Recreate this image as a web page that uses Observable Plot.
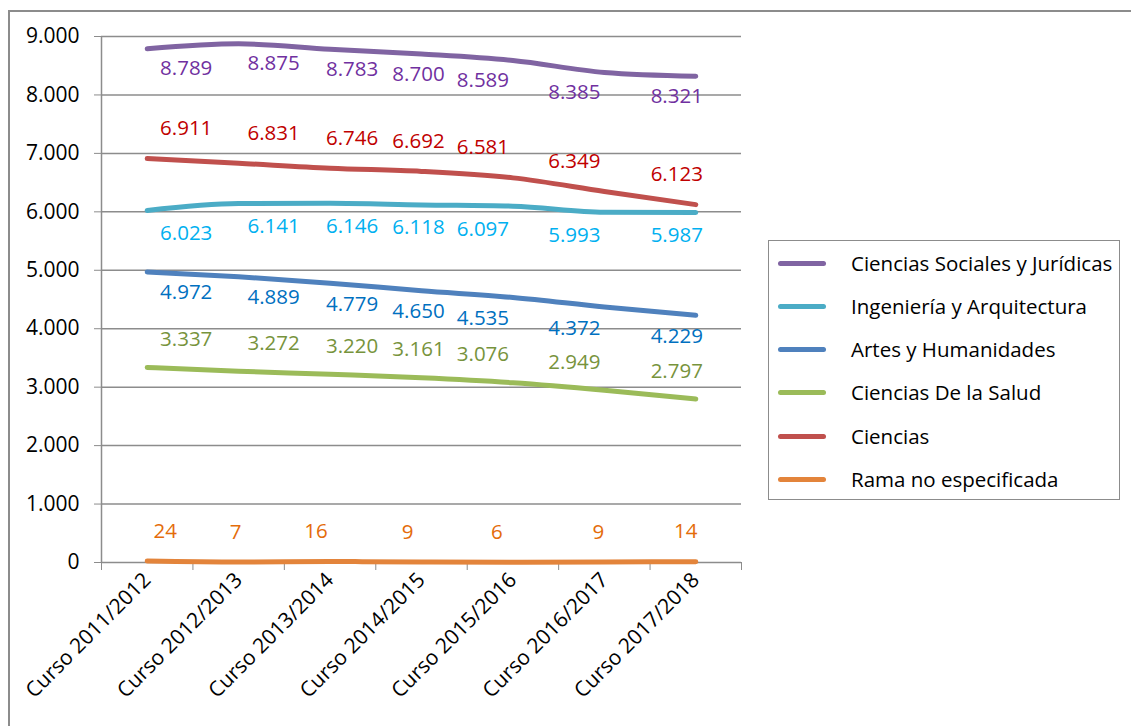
<!DOCTYPE html>
<html>
<head>
<meta charset="utf-8">
<script src="https://cdn.jsdelivr.net/npm/d3@7"></script>
<script src="https://cdn.jsdelivr.net/npm/@observablehq/plot@0.6"></script>
<style>
  html, body { margin: 0; padding: 0; background: #fff; }
  #wrap { position: relative; width: 1131px; height: 726px; overflow: hidden; font-family: "Open Sans", sans-serif; }
  #border { position: absolute; left: 8px; top: 10px; width: 1200px; height: 800px; border-top: 2px solid #8c8c8c; border-left: 2px solid #8c8c8c; box-sizing: border-box; }
  #chart { position: absolute; left: 0; top: 0; }
  #legend { position: absolute; left: 768px; top: 240px; width: 352px; height: 260px; border: 1.5px solid #8c8c8c; box-sizing: border-box; background: #fff; }
  .item { position: absolute; left: 0; height: 24px; display: flex; align-items: center; font-size: 20.5px; color: #000; white-space: nowrap; }
  .sw { display: inline-block; width: 48px; height: 5px; border-radius: 3px; margin-left: 9px; margin-right: 25px; }
</style>
</head>
<body>
<div id="wrap">
  <div id="border"></div>
  <div id="chart"></div>
  <div id="legend"></div>
</div>
<script>
// ---- data ----
const categories = ["Curso 2011/2012", "Curso 2012/2013", "Curso 2013/2014", "Curso 2014/2015", "Curso 2015/2016", "Curso 2016/2017", "Curso 2017/2018"];
const seriesNames = ["Ciencias Sociales y Jurídicas", "Ingeniería y Arquitectura", "Artes y Humanidades", "Ciencias De la Salud", "Ciencias", "Rama no especificada"];
const sociales = [8789, 8875, 8783, 8700, 8589, 8385, 8321];
const ingenieria = [6023, 6141, 6146, 6118, 6097, 5993, 5987];
const artes = [4972, 4889, 4779, 4650, 4535, 4372, 4229];
const salud = [3337, 3272, 3220, 3161, 3076, 2949, 2797];
const ciencias = [6911, 6831, 6746, 6692, 6581, 6349, 6123];
const noEspecificada = [24, 7, 16, 9, 6, 9, 14];
const yTicks = [0, 1000, 2000, 3000, 4000, 5000, 6000, 7000, 8000, 9000];

// ---- styles ----
const lineColors = ["#8064A2", "#4BACC6", "#4F81BD", "#9BBB59", "#C0504D", "#E3843B"];
const labelColors = ["#7030A0", "#00B0F0", "#0070C0", "#77933C", "#C00000", "#E46C0A"];
const labelDy = [20, 23, 21, -28, -30, -30];
// label nudges (pixels) as placed in the original chart
const labelDx = [39, 35, 22, -3, -30, -30, -19];
const labelDxRama = [18, -3, -14, -14, -16, -6, -10];

const valuesBySeries = [sociales, ingenieria, artes, salud, ciencias, noEspecificada];
const rows = [];
valuesBySeries.forEach((vals, s) => vals.forEach((v, i) => rows.push({series: seriesNames[s], s, i, value: v})));

const fmt = d => d3.format(",")(d).replace(/,/g, ".");
const n = categories.length;
const boundaries = d3.range(n + 1).map(i => i - 0.5);

const labelMarks = [];
seriesNames.forEach((name, s) => {
  const dxs = s === 5 ? labelDxRama : labelDx;
  categories.forEach((c, i) => {
    labelMarks.push(Plot.text(rows.filter(r => r.s === s && r.i === i), {
      x: "i", y: "value", text: d => fmt(d.value),
      fill: labelColors[s], dx: dxs[i], dy: labelDy[s],
      fontSize: 20.5
    }));
  });
});

const chart = Plot.plot({
  width: 1131,
  height: 726,
  marginLeft: 101,
  marginRight: 390,
  marginTop: 36,
  marginBottom: 164,
  style: { fontFamily: "Open Sans, sans-serif", background: "transparent" },
  x: { type: "linear", domain: [-0.5, n - 0.5] },
  y: { domain: [0, 9000] },
  color: { domain: seriesNames, range: lineColors },
  marks: [
    Plot.gridY(yTicks, { stroke: "#8c8c8c", strokeOpacity: 1, strokeWidth: 1.5 }),
    Plot.ruleX([-0.5], { stroke: "#8c8c8c", strokeWidth: 1.5 }),
    Plot.axisY(yTicks, { tickFormat: fmt, tickSize: 7, tickPadding: 15, stroke: "#8c8c8c", fontSize: 21, fill: "#000", label: null }),
    Plot.axisX(boundaries, { tickSize: 8, tickFormat: () => "", stroke: "#8c8c8c", label: null }),
    Plot.axisX(d3.range(n), { tickSize: 0, tickFormat: i => categories[i], tickRotate: -45, tickPadding: 14, fontSize: 21, fill: "#000", textAnchor: "end", label: null }),
    Plot.line(rows, { x: "i", y: "value", z: "series", stroke: "series", strokeWidth: 5, strokeLinecap: "round", strokeLinejoin: "round", curve: "monotone-x" }),
    ...labelMarks
  ]
});
document.getElementById("chart").appendChild(chart);

// legend
const legend = document.getElementById("legend");
const legendTops = [10, 53, 96, 139, 183, 226];
seriesNames.forEach((name, s) => {
  const item = document.createElement("div");
  item.className = "item";
  item.style.top = legendTops[s] + "px";
  const sw = document.createElement("span");
  sw.className = "sw";
  sw.style.background = lineColors[s];
  item.appendChild(sw);
  item.appendChild(document.createTextNode(name));
  legend.appendChild(item);
});
</script>
</body>
</html>
